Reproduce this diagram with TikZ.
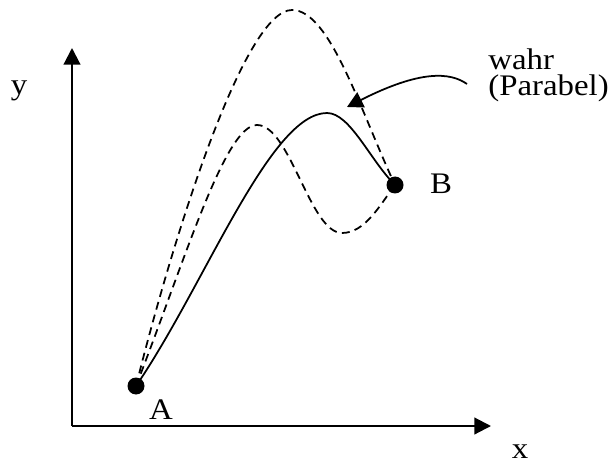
\documentclass[tikz,border=0pt]{standalone}
\usepackage{fontspec}
\setmainfont{Liberation Serif}[FakeStretch=1.1]
\usetikzlibrary{arrows.meta}

\begin{document}
\begin{tikzpicture}[
        x=0.02cm, y=-0.02cm,
        axis/.style={line width=1.2pt, -{Triangle[length=9.5pt,width=9.5pt]}},
        point/.style={circle, fill, inner sep=0pt, minimum size=0.34cm},
        lbl/.style={anchor=base, inner sep=0pt, font=\fontsize{17}{15.3}\selectfont},
        curve/.style={line width=1pt},
        variant/.style={curve, dash pattern=on 4.5pt off 3pt},
        pointer/.style={line width=1pt, -{Triangle[length=9pt,width=9.5pt]}}
    ]

    \useasboundingbox (0,0) rectangle (611,462);

    % =========================
    % Axes
    % =========================
    \coordinate (origin) at (72,426);
    \coordinate (ytip)   at (72,48);
    \coordinate (xtip)   at (491,426);

    \draw[axis] (origin) -- (ytip);
    \draw[axis] (origin) -- (xtip);

    \node[lbl] (ylabel) at (19,95) {y};
    \node[lbl] (xlabel) at (520,458) {x};

    % =========================
    % End points
    % =========================
    \node[point] (A) at (136,386) {};
    \node[point] (B) at (395,185) {};

    \node[lbl] (Alabel) at (161,419) {A};
    \node[lbl] (Blabel) at (441,194) {B};

    % =========================
    % Paths from A to B
    % =========================
    \coordinate (top)    at (327,113);
    \coordinate (high)   at (292,10);
    \coordinate (hump)   at (257,125);
    \coordinate (dip)    at (342,233);

    \draw[curve] (A.center) .. controls (205,285) and (270,113) .. (top)
        .. controls (350,113) and (370,160) .. (B.center);

    \draw[variant] (A.center) .. controls (175,230) and (245,10) .. (high)
        .. controls (330,10) and (360,110) .. (B.center);

    \draw[variant] (A.center) .. controls (185,260) and (225,125) .. (hump)
        .. controls (290,125) and (310,233) .. (dip)
        .. controls (365,233) and (380,205) .. (B.center);

    % =========================
    % Annotation
    % =========================
    \node[lbl, anchor=base west, align=left] (true) at (488,96) {wahr\\(Parabel)};

    \coordinate (tail) at (467,84);
    \coordinate (head) at (347,107);
    \draw[pointer] (tail) .. controls (450,72) and (420,70) .. (head);

\end{tikzpicture}
\end{document}
